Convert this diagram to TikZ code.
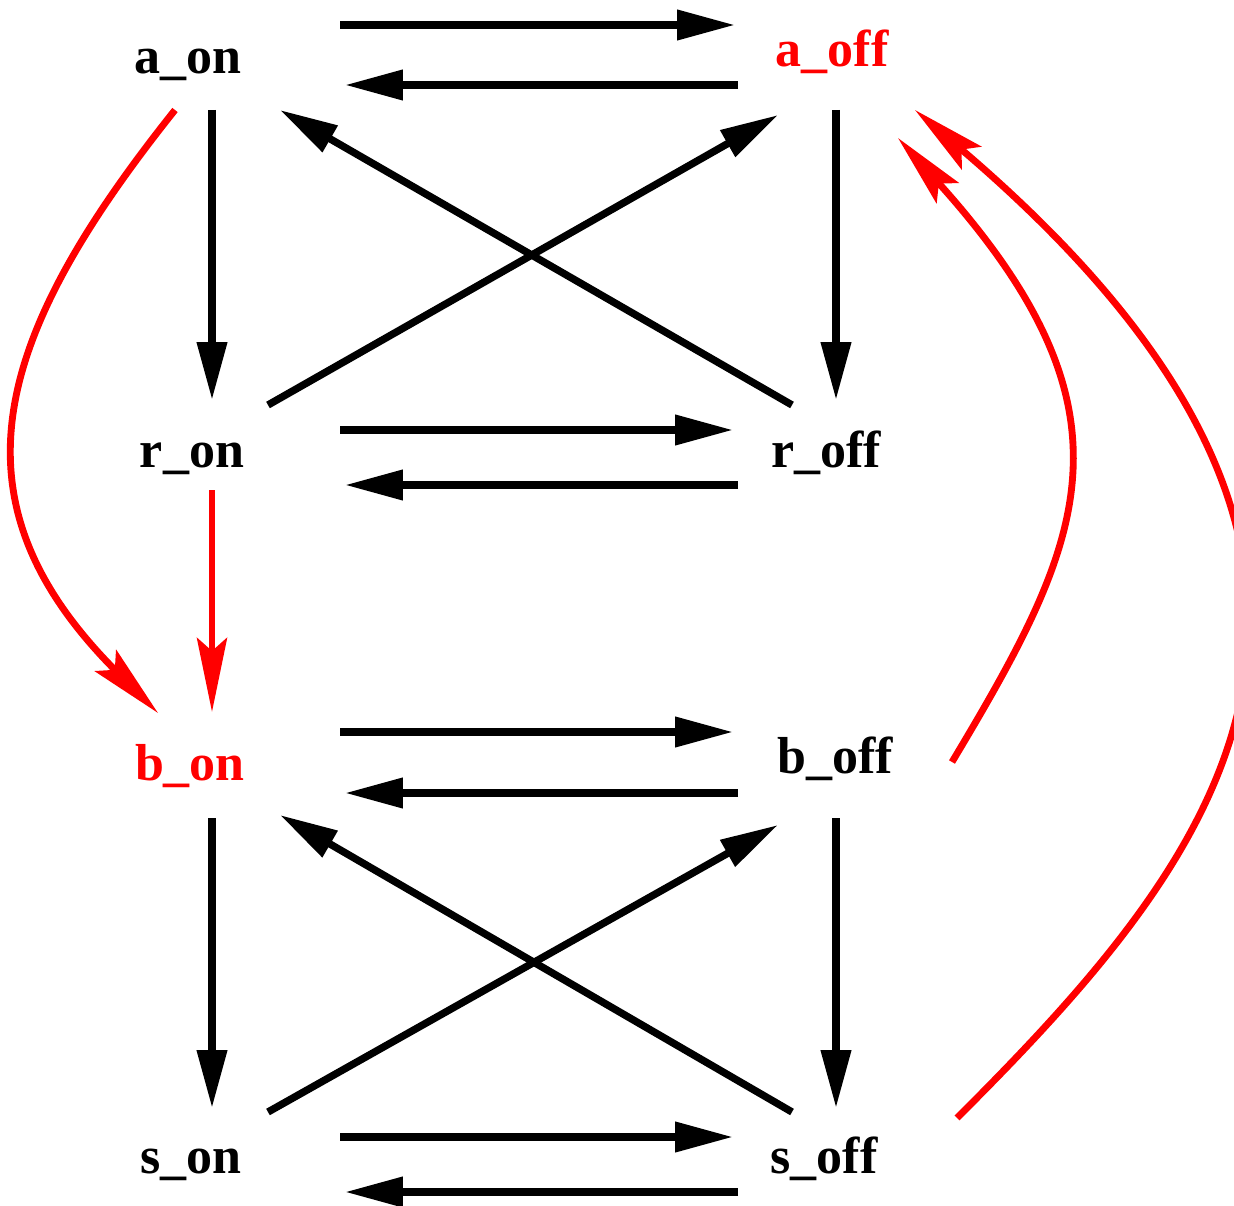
\documentclass[tikz,border=0pt]{standalone}
\usepackage{fontspec}
\setmainfont{Liberation Serif}
\usetikzlibrary{arrows.meta, calc}
\definecolor{hotRed}{HTML}{FF0000}

\begin{document}
\begin{tikzpicture}[
  x=0.02cm, y=-0.02cm,
  state/.style={font=\fontsize{29.6}{34}\selectfont\bfseries, inner sep=0pt, anchor=base, text=black},
  hot/.style={state, text=hotRed},
  link/.style={line width=4.2pt, -{Triangle[length=1.16cm, width=0.58cm]}},
  hotlink/.style={line width=3.9pt, draw=hotRed, -{Stealth[length=1.48cm, width=0.6cm, inset=0.26cm]}},
]
  \useasboundingbox (0,0) rectangle (1234,1206);

  % States (placed at their baselines)
  \node[state] (aon)  at (188, 74)   {a\_on};
  \node[hot]   (aoff) at (832, 67)   {a\_off};
  \node[state] (ron)  at (192, 467)  {r\_on};
  \node[state] (roff) at (826, 467)  {r\_off};
  \node[hot]   (bon)  at (190, 780)  {b\_on};
  \node[state] (boff) at (835, 773)  {b\_off};
  \node[state] (son)  at (191, 1173) {s\_on};
  \node[state] (soff) at (824, 1173) {s\_off};

  % Upper block
  \draw[link] ([shift={(152,-49)}]aon.base) -- ([shift={(-97,-42)}]aoff.base);
  \draw[link] ([shift={(-94,18)}]aoff.base) -- ([shift={(157,11)}]aon.base);
  \draw[link] ([shift={(24,36)}]aon.base)   -- ([shift={(20,-67)}]ron.base);
  \draw[link] ([shift={(4,43)}]aoff.base)   -- ([shift={(10,-67)}]roff.base);
  \draw[link] ([shift={(76,-62)}]ron.base)  -- ([shift={(-54,48)}]aoff.base);
  \draw[link] ([shift={(-34,-62)}]roff.base) -- ([shift={(92,36)}]aon.base);
  \draw[link] ([shift={(148,-37)}]ron.base) -- ([shift={(-93,-37)}]roff.base);
  \draw[link] ([shift={(-88,18)}]roff.base) -- ([shift={(153,18)}]ron.base);

  % Lower block
  \draw[link] ([shift={(150,-48)}]bon.base) -- ([shift={(-102,-41)}]boff.base);
  \draw[link] ([shift={(-97,20)}]boff.base) -- ([shift={(155,13)}]bon.base);
  \draw[link] ([shift={(22,38)}]bon.base)   -- ([shift={(21,-65)}]son.base);
  \draw[link] ([shift={(1,45)}]boff.base)   -- ([shift={(12,-65)}]soff.base);
  \draw[link] ([shift={(77,-61)}]son.base)  -- ([shift={(-57,52)}]boff.base);
  \draw[link] ([shift={(-32,-61)}]soff.base) -- ([shift={(90,35)}]bon.base);
  \draw[link] ([shift={(149,-36)}]son.base) -- ([shift={(-91,-36)}]soff.base);
  \draw[link] ([shift={(-86,19)}]soff.base) -- ([shift={(154,19)}]son.base);

  % Red transitions
  \draw[hotlink] ([shift={(20,23)}]ron.base) -- ([shift={(22,-68)}]bon.base);
  \draw[hotlink] ([shift={(-13,36)}]aon.base)
    .. controls (-11,343) and (-52,503) .. ([shift={(-32,-67)}]bon.base);
  \draw[hotlink] ([shift={(117,-11)}]boff.base)
    .. controls (1085,540) and (1146,413) .. ([shift={(66,71)}]aoff.base);
  \draw[hotlink] ([shift={(133,-55)}]soff.base)
    .. controls (1215,860) and (1457,571) .. ([shift={(83,43)}]aoff.base);
\end{tikzpicture}
\end{document}
